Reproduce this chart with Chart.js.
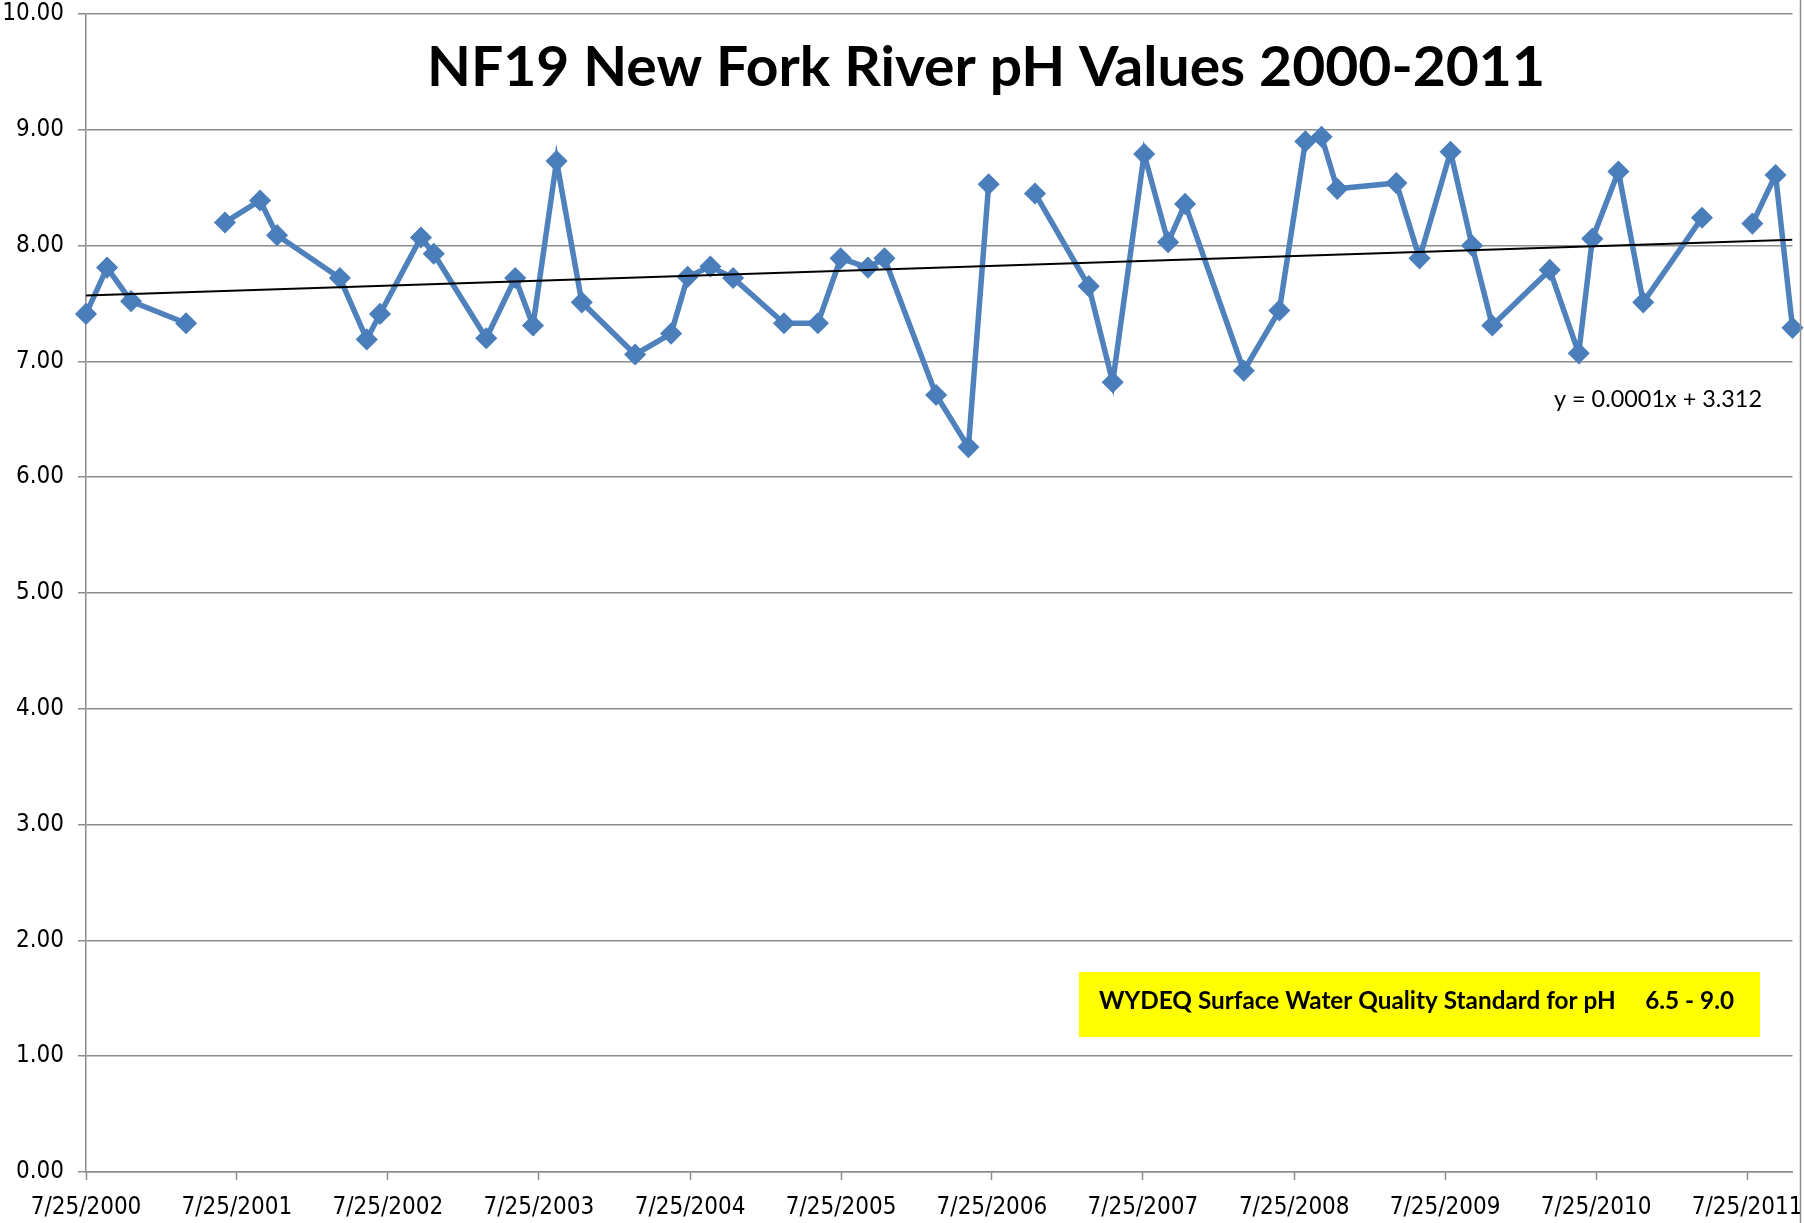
<!DOCTYPE html>
<html>
<head>
<meta charset="utf-8">
<title>NF19 New Fork River pH Values 2000-2011</title>
<script src="https://cdn.jsdelivr.net/npm/chart.js@4.4.1/dist/chart.umd.min.js"></script>
<style>
  html, body { margin: 0; padding: 0; background: #ffffff; }
  #graphic { display: block; }
</style>
</head>
<body>
<canvas id="graphic" width="1804" height="1223"></canvas>
<script>
// sample dates (null pH = no sample, line breaks there)
var sampleDates = [
    '2000-07-25', '2000-09-14', '2000-11-11', '2001-03-24', '2001-05-01',
    '2001-06-26', '2001-09-19', '2001-10-30', '2002-03-31', '2002-06-04',
    '2002-07-06', '2002-10-13', '2002-11-13', '2003-03-20', '2003-05-29',
    '2003-07-11', '2003-09-06', '2003-11-06', '2004-03-14', '2004-06-09',
    '2004-07-19', '2004-09-12', '2004-11-06', '2005-03-09', '2005-05-30',
    '2005-07-24', '2005-09-28', '2005-11-07', '2006-03-12', '2006-05-29',
    '2006-07-17', '2006-09-15', '2006-11-06', '2007-03-16', '2007-05-13',
    '2007-07-28', '2007-09-24', '2007-11-04', '2008-03-25', '2008-06-19',
    '2008-08-21', '2008-09-29', '2008-11-06', '2009-03-29', '2009-05-24',
    '2009-08-07', '2009-09-28', '2009-11-16', '2010-04-04', '2010-06-13',
    '2010-07-16', '2010-09-17', '2010-11-16', '2011-04-07', '2011-06-01',
    '2011-08-07', '2011-10-02', '2011-11-12'
];
var phValues = [
    7.41, 7.81, 7.52, 7.33, null,
    8.20, 8.39, 8.09, 7.72, 7.19,
    7.41, 8.07, 7.93, 7.20, 7.72,
    7.31, 8.73, 7.51, 7.06, 7.24,
    7.73, 7.82, 7.72, 7.33, 7.33,
    7.89, 7.81, 7.89, 6.71, 6.26,
    8.53, null, 8.45, 7.65, 6.82,
    8.79, 8.03, 8.36, 6.92, 7.44,
    8.90, 8.94, 8.49, 8.54, 7.89,
    8.81, 8.00, 7.31, 7.79, 7.07,
    8.06, 8.64, 7.51, 8.24, null,
    8.19, 8.61, 7.29
];
var tickLabels = ['7/25/2000', '7/25/2001', '7/25/2002', '7/25/2003', '7/25/2004', '7/25/2005',
    '7/25/2006', '7/25/2007', '7/25/2008', '7/25/2009', '7/25/2010', '7/25/2011'];

var titleText = 'NF19 New Fork River pH Values 2000-2011';
var equationText = 'y = 0.0001x + 3.312';
var standardText = 'WYDEQ Surface Water Quality Standard for pH     6.5 - 9.0';

// excel style day serials
function isoToSerial(s) {
    var p = s.split('-');
    return Date.UTC(+p[0], +p[1] - 1, +p[2]) / 86400000 + 25569;
}
function labelToSerial(s) {
    var p = s.split('/');
    return Date.UTC(+p[2], +p[0] - 1, +p[1]) / 86400000 + 25569;
}

var points = sampleDates.map(function (d, i) {
    return { x: isoToSerial(d), y: phValues[i] };
});
var xMin = labelToSerial(tickLabels[0]);
var xMax = isoToSerial(sampleDates[sampleDates.length - 1]);

// least squares trend line
var n = 0, sx = 0, sy = 0, sxx = 0, sxy = 0;
points.forEach(function (p) {
    if (p.y === null) return;
    n++; sx += p.x; sy += p.y; sxx += p.x * p.x; sxy += p.x * p.y;
});
var slope = (n * sxy - sx * sy) / (n * sxx - sx * sx);
var intercept = (sy - slope * sx) / n;
var trendPoints = [
    { x: xMin, y: intercept + slope * xMin },
    { x: xMax, y: intercept + slope * xMax }
];

var gridGray = '#8c8c8c';
var tickFont = { family: "'Liberation Sans Narrow', 'DejaVu Sans Condensed', Lato, sans-serif", size: 24 };

function fitText(ctx, text, font, left, baseline, width) {
    ctx.save();
    ctx.font = font;
    var w = ctx.measureText(text).width;
    ctx.translate(left, baseline);
    ctx.scale(width / w, 1);
    ctx.textAlign = 'left';
    ctx.textBaseline = 'alphabetic';
    ctx.fillStyle = '#000000';
    ctx.fillText(text, 0, 0);
    ctx.restore();
}

var textBoxes = {
    id: 'textBoxes',
    afterDraw: function (chart) {
        var ctx = chart.ctx;
        fitText(ctx, titleText, 'bold 56px Lato', 427, 86, 1118);
        fitText(ctx, equationText, '24px Lato', 1554, 407, 208);

        ctx.save();
        ctx.fillStyle = '#ffff00';
        ctx.fillRect(1079, 972, 681, 65);
        ctx.restore();
        fitText(ctx, standardText, 'bold 24px Lato', 1099, 1009, 635);

        // outer border on the right
        ctx.save();
        ctx.strokeStyle = gridGray;
        ctx.lineWidth = 1.5;
        ctx.beginPath();
        ctx.moveTo(1800.5, 0);
        ctx.lineTo(1800.5, 1223);
        ctx.stroke();
        ctx.restore();
    }
};

var ctx = document.getElementById('graphic').getContext('2d');

var graphic = new Chart(ctx, {
    type: 'line',
    data: {
        datasets: [{
            label: 'Trend',
            data: trendPoints,
            borderColor: '#000000',
            borderWidth: 2,
            pointRadius: 0,
            fill: false,
            order: 0
        }, {
            label: 'pH',
            data: points,
            borderColor: '#4f81bd',
            backgroundColor: '#4f81bd',
            borderWidth: 5.5,
            pointStyle: 'rectRot',
            pointRadius: 10,
            pointBorderWidth: 1.5,
            pointBorderColor: '#4a7ebb',
            pointBackgroundColor: '#4a7ebb',
            spanGaps: false,
            tension: 0,
            clip: false,
            order: 1
        }]
    },
    options: {
        responsive: false,
        animation: false,
        devicePixelRatio: 1,
        layout: { padding: 0 },
        plugins: {
            legend: { display: false },
            tooltip: { enabled: false },
            title: { display: false }
        },
        scales: {
            x: {
                type: 'linear',
                min: xMin,
                max: xMax,
                afterBuildTicks: function (scale) {
                    scale.ticks = tickLabels.map(function (l) { return { value: labelToSerial(l) }; });
                },
                afterFit: function (scale) {
                    scale.height = 51;
                    scale.paddingRight = 10;
                },
                grid: { drawOnChartArea: false, drawTicks: true, tickLength: 8, tickColor: gridGray, tickWidth: 1.5 },
                border: { color: gridGray, width: 1.5 },
                ticks: {
                    autoSkip: false,
                    maxRotation: 0,
                    padding: 13,
                    color: '#000000',
                    font: tickFont,
                    callback: function (v, i) { return tickLabels[i]; }
                }
            },
            y: {
                min: 0,
                max: 10,
                afterFit: function (scale) {
                    scale.width = 86;
                    scale.paddingTop = 14;
                },
                grid: { color: gridGray, lineWidth: 1.5, tickLength: 8 },
                border: { color: gridGray, width: 1.5 },
                ticks: {
                    stepSize: 1,
                    padding: 14,
                    color: '#000000',
                    font: tickFont,
                    callback: function (v) { return v.toFixed(2); }
                }
            }
        }
    },
    plugins: [textBoxes]
});
</script>
</body>
</html>
